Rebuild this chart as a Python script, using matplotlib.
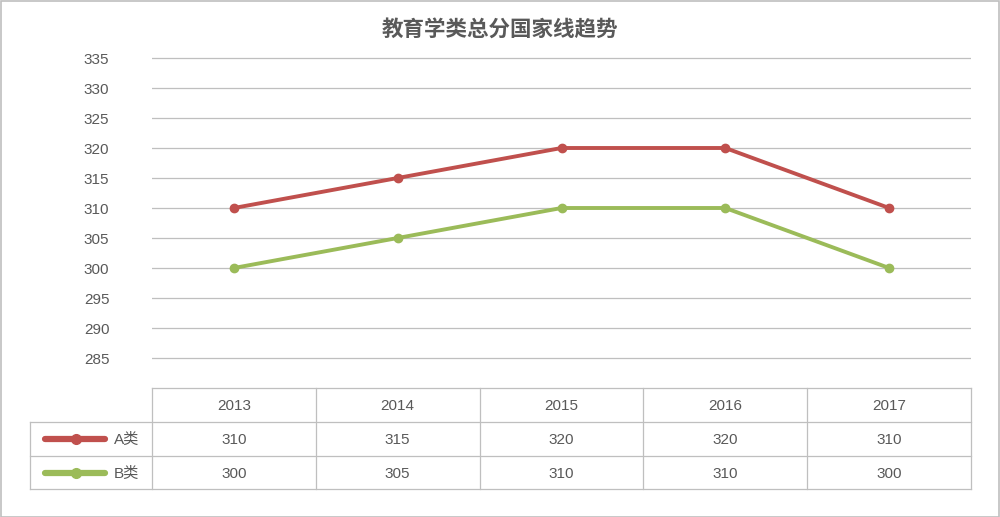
import matplotlib
matplotlib.use("Agg")
import matplotlib.pyplot as plt
from matplotlib.patches import Rectangle

plt.rcParams['font.family'] = ['Liberation Sans', 'Noto Sans CJK SC', 'DejaVu Sans']

title = "教育学类总分国家线趋势"
years = ["2013", "2014", "2015", "2016", "2017"]
series_names = ["A类", "B类"]
a_vals = [310, 315, 320, 320, 310]
b_vals = [300, 305, 310, 310, 300]
colors = ["#C0504D", "#9BBB59"]
yticks = [285, 290, 295, 300, 305, 310, 315, 320, 325, 330, 335]

W, H = 1000, 517
fig = plt.figure(figsize=(W / 100, H / 100), dpi=100)
fig.patch.set_facecolor("white")

def fx(px):
    return px / W

def fy(py):
    return 1 - py / H

ax = fig.add_axes([fx(152), fy(361), fx(971) - fx(152), fy(55) - fy(361)])
ax.set_xlim(-0.5, len(years) - 0.5)
ax.set_ylim(284.5, 335.5)
ax.set_yticks(yticks)
ax.set_yticklabels([str(v) for v in yticks], fontsize=11, color="#595959")
ax.tick_params(axis="y", length=0, pad=49)
ax.set_xticks([])
for s in ax.spines.values():
    s.set_visible(False)
ax.grid(axis="y", color="#BFBFBF", linewidth=0.9)
ax.set_axisbelow(True)
for lab in ax.get_yticklabels():
    lab.set_horizontalalignment("left")

xs = list(range(len(years)))
for vals, c in zip([a_vals, b_vals], colors):
    ax.plot(xs, vals, color=c, linewidth=2.8, marker="o", markersize=6,
            solid_capstyle="round", zorder=3)

fig.text(0.5, fy(30), title, ha="center", va="center", fontsize=15.5,
         fontweight="bold", color="#595959")

# Data table
tax = fig.add_axes([0, 0, 1, 1])
tax.set_xlim(0, W)
tax.set_ylim(H, 0)
tax.axis("off")
tax.set_zorder(-1)

def data_x_to_px(x):
    return ax.transData.transform((x, 0))[0] * W / fig.bbox.width

gc = "#BFBFBF"
top, r1, r2, bot = 388, 422, 456, 489
left_lab = 30
bounds = [data_x_to_px(i - 0.5) for i in range(len(years) + 1)]
lw = 0.9
tax.plot([bounds[0], bounds[-1]], [top, top], color=gc, lw=lw)
for yy in (r1, r2, bot):
    tax.plot([left_lab, bounds[-1]], [yy, yy], color=gc, lw=lw)
for b in bounds:
    tax.plot([b, b], [top, bot], color=gc, lw=lw)
tax.plot([left_lab, left_lab], [r1, bot], color=gc, lw=lw)

tc = "#595959"
fs = 11
for i, yr in enumerate(years):
    cx = data_x_to_px(i)
    tax.text(cx, (top + r1) / 2 + 1, yr, ha="center", va="center", fontsize=fs, color=tc)
    tax.text(cx, (r1 + r2) / 2 + 1, str(a_vals[i]), ha="center", va="center", fontsize=fs, color=tc)
    tax.text(cx, (r2 + bot) / 2 + 1, str(b_vals[i]), ha="center", va="center", fontsize=fs, color=tc)

for (y0, y1), name, c in zip([(r1, r2), (r2, bot)], series_names, colors):
    cy = (y0 + y1) / 2
    tax.plot([45, 105], [cy, cy], color=c, lw=4.5, solid_capstyle="round")
    tax.plot([76], [cy], marker="o", color=c, markersize=7)
    tax.text(114, cy + 1, name, ha="left", va="center", fontsize=fs, color=tc)

fig.patches.append(Rectangle((0.5 / W, 0.5 / H), 1 - 1.5 / W, 1 - 1.5 / H,
                             transform=fig.transFigure, fill=False,
                             edgecolor="#BFBFBF", linewidth=1.2))

fig.savefig("out.png", dpi=100, facecolor="white")
